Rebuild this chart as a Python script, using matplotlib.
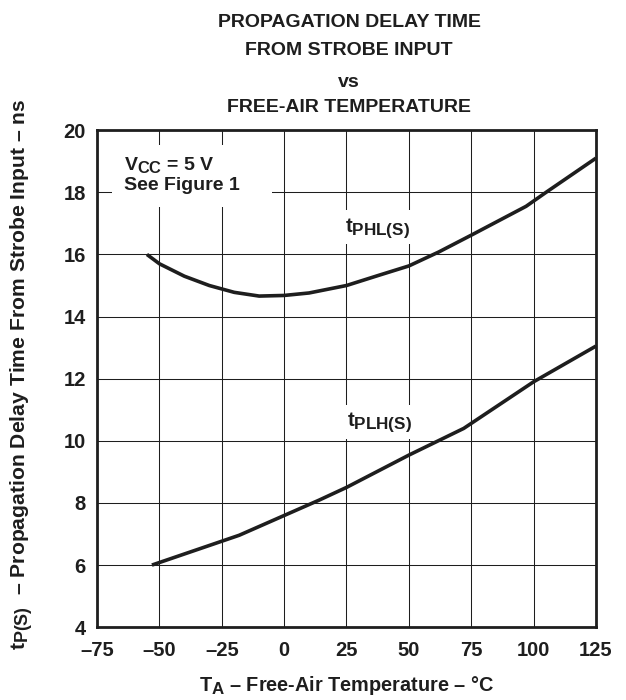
import matplotlib
matplotlib.use("Agg")
import matplotlib.pyplot as plt
from matplotlib.patches import Rectangle
import matplotlib._mathtext as _mt

_mt.SHRINK_FACTOR = 0.85

plt.rcParams['font.family'] = ['Liberation Sans', 'DejaVu Sans']
plt.rcParams['font.weight'] = 'bold'
plt.rcParams['mathtext.fontset'] = 'custom'
plt.rcParams['mathtext.rm'] = 'Liberation Sans:bold'
plt.rcParams['mathtext.it'] = 'Liberation Sans:bold'
plt.rcParams['mathtext.bf'] = 'Liberation Sans:bold'

# Data
phl_temp = [-55, -50, -40, -30, -20, -10, 0, 10, 25, 38, 50, 62, 75, 97, 105, 125]
phl_delay = [16.0, 15.7, 15.3, 15.0, 14.78, 14.66, 14.68, 14.76, 15.0, 15.33, 15.63, 16.08, 16.62, 17.55, 18.0, 19.1]

plh_temp = [-53, -18, 14, 25, 50, 72, 100, 125]
plh_delay = [6.0, 6.96, 8.09, 8.5, 9.54, 10.4, 11.9, 13.05]

x_ticks = [-75, -50, -25, 0, 25, 50, 75, 100, 125]
x_labels = ['\u201375', '\u201350', '\u201325', '0', '25', '50', '75', '100', '125']
y_ticks = [4, 6, 8, 10, 12, 14, 16, 18, 20]

title_lines = ['PROPAGATION DELAY TIME', 'FROM STROBE INPUT', 'vs', 'FREE-AIR TEMPERATURE']

ink = '#1e1e1e'

fig = plt.figure(figsize=(6.26, 7.0), dpi=100)
ax = fig.add_axes([0.155, 0.104, 0.797, 0.710])

ax.set_xlim(-75, 125)
ax.set_ylim(4, 20)
ax.set_xticks(x_ticks)
ax.set_xticklabels(x_labels)
ax.set_yticks(y_ticks)
ax.tick_params(length=0, labelsize=14.5, colors=ink)
ax.tick_params(axis='x', pad=10)
ax.tick_params(axis='y', pad=8)
for lbl in ax.get_xticklabels() + ax.get_yticklabels():
    lbl.set_fontweight('bold')
ax.grid(True, color=ink, linewidth=0.75)
ax.set_axisbelow(True)
for s in ax.spines.values():
    s.set_linewidth(2.0)
    s.set_color(ink)
    s.set_zorder(5)

ax.plot(phl_temp, phl_delay, color=ink, linewidth=2.6, zorder=3, solid_capstyle='butt')
ax.plot(plh_temp, plh_delay, color=ink, linewidth=2.6, zorder=3, solid_capstyle='butt')

# white label panels interrupting the grid
for (x0, y0, w, h) in [(-69, 17.52, 64, 2.0), (20, 16.33, 35, 1.1), (20, 10.05, 35, 1.1)]:
    ax.add_patch(Rectangle((x0, y0), w, h, facecolor='white', edgecolor='none', zorder=2))

ax.text(-64, 18.58, r'$V_{CC}$ = 5 V' + '\nSee Figure 1', fontsize=14, fontweight='bold',
        color=ink, va='center', ha='left', linespacing=1.2, zorder=4)
ax.text(37.3, 16.85, r'$t_{PHL(S)}$', fontsize=14.5, ha='center', va='center', color=ink, zorder=4)
ax.text(38.4, 10.6, r'$t_{PLH(S)}$', fontsize=14.5, ha='center', va='center', color=ink, zorder=4)

baselines = [27, 55, 87, 112]
for line, b in zip(title_lines, baselines):
    fig.text(349 / 626, 1 - b / 700, line, ha='center', va='baseline', fontsize=14,
             fontweight='bold', color=ink)

ax.set_xlabel(r'$T_A$ – Free-Air Temperature – °C', fontsize=14.3, fontweight='bold', color=ink, labelpad=10)
fig.text(22 / 626, 1 - 374 / 700, r'$t_{P(S)}$  – Propagation Delay Time From Strobe Input – ns',
         rotation=90, ha='center', va='center', fontsize=15.2, fontweight='bold', color=ink)

fig.savefig('out.png', dpi=100)
